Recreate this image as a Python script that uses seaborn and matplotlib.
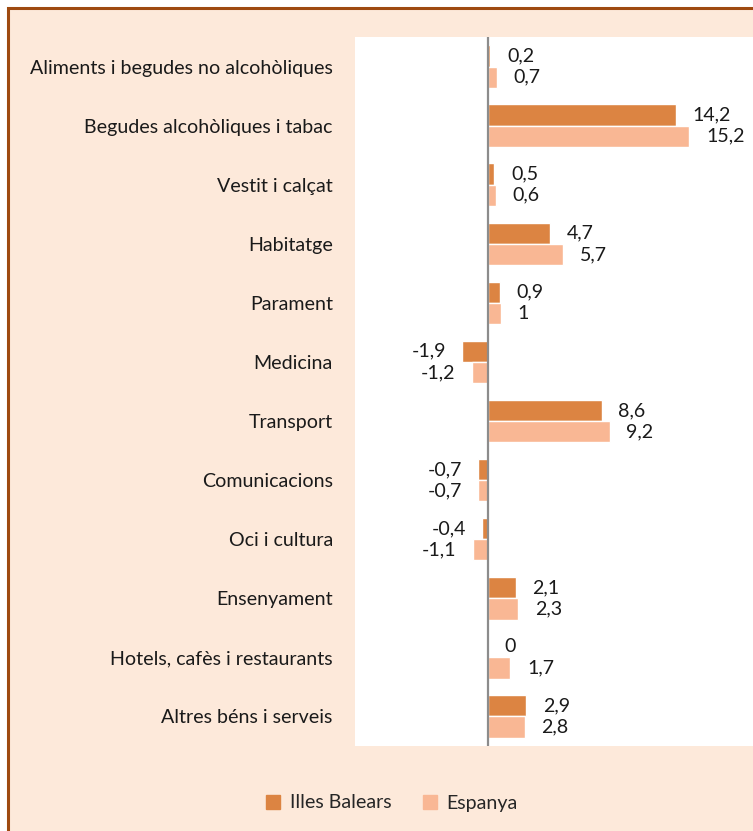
import numpy as np
import pandas as pd
import matplotlib
matplotlib.use("Agg")
import matplotlib.pyplot as plt
import matplotlib.patches as mpatches
import seaborn as sns

categories = [
    "Aliments i begudes no alcohòliques",
    "Begudes alcohòliques i tabac",
    "Vestit i calçat",
    "Habitatge",
    "Parament",
    "Medicina",
    "Transport",
    "Comunicacions",
    "Oci i cultura",
    "Ensenyament",
    "Hotels, cafès i restaurants",
    "Altres béns i serveis",
]
illes_balears = [0.2, 14.2, 0.5, 4.7, 0.9, -1.9, 8.6, -0.7, -0.4, 2.1, 0.0, 2.9]
espanya = [0.7, 15.2, 0.6, 5.7, 1.0, -1.2, 9.2, -0.7, -1.1, 2.3, 1.7, 2.8]
series_names = ["Illes Balears", "Espanya"]
colors = ["#DC8442", "#F9B794"]

df = pd.DataFrame({
    "categoria": categories * 2,
    "valor": illes_balears + espanya,
    "serie": [series_names[0]] * len(categories) + [series_names[1]] * len(categories),
})

sns.set_style("white")
plt.rcParams["font.family"] = ["Lato", "DejaVu Sans"]
FS = 14.1


def fmt(v):
    s = f"{v:.1f}".replace(".", ",")
    if s.endswith(",0"):
        s = s[:-2]
    if s == "-0":
        s = "0"
    return s


fig = plt.figure(figsize=(7.53, 8.31), dpi=100, facecolor="white")
# cream panel with brown frame (cropped on right and bottom)
fig.patches.append(mpatches.Rectangle((8 / 753, -0.05), 1.1, 1.05 - 8.5 / 831,
                                      transform=fig.transFigure, facecolor="#FDE9DA",
                                      edgecolor="#9E4A10", lw=2.2, zorder=-5))

ax = fig.add_axes([355 / 753, 1 - 746 / 831, 1 - 355 / 753, (746 - 37) / 831])
ax.set_facecolor("white")
sns.barplot(data=df, x="valor", y="categoria", hue="serie", orient="h",
            palette=colors, width=0.72, saturation=1, ax=ax, legend=False)

ax.axvline(0, color="#8c8c8c", lw=1.6, zorder=3)
ax.set_xlim(-10, 20)
ax.set_ylim(len(categories) - 0.5, -0.5)

for cont, vals in zip(ax.containers, [illes_balears, espanya]):
    ax.bar_label(cont, labels=[fmt(v) for v in vals], padding=12, fontsize=FS,
                 color="#1a1a1a")

for s in ax.spines.values():
    s.set_visible(False)
ax.set_xticks([])
ax.set_xlabel("")
ax.set_ylabel("")
ax.tick_params(axis="y", length=0, pad=16, labelsize=FS, labelcolor="#1a1a1a")

handles = [mpatches.Patch(color=c, label=n) for c, n in zip(colors, series_names)]
fig.legend(handles=handles, loc="center", bbox_to_anchor=(392 / 753, 1 - 803 / 831),
           ncol=2, frameon=False, fontsize=FS, handlelength=0.7, handleheight=0.7,
           handletextpad=0.5, columnspacing=1.6)

fig.savefig("out.png", dpi=100, facecolor=fig.get_facecolor())
